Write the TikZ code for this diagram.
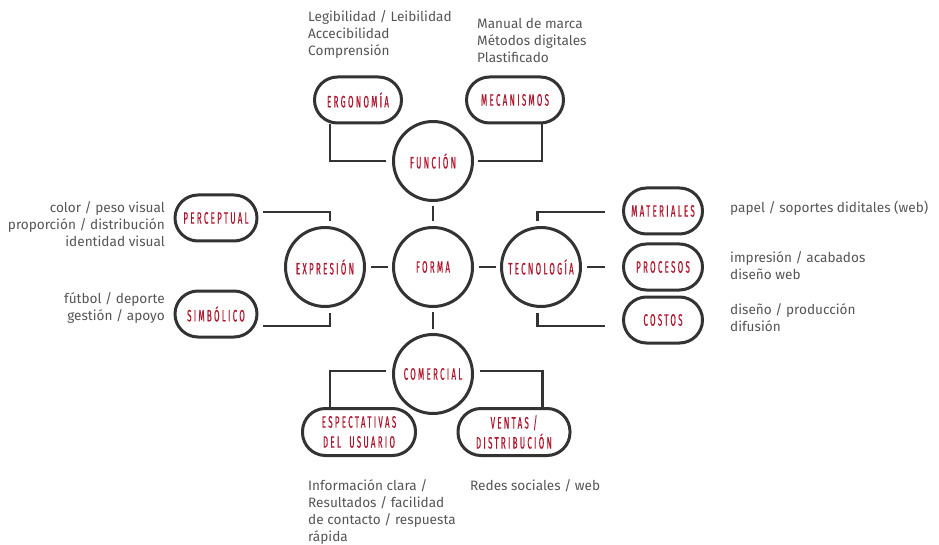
\documentclass[tikz,border=0pt]{standalone}
\usepackage{fontspec}
\setmainfont{Fira Sans}
\newfontfamily\labfont[FakeStretch=0.48,LetterSpace=14,FakeBold=0.6]{Fira Sans}
\usetikzlibrary{calc}
\definecolor{lineC}{HTML}{333333}
\definecolor{redC}{HTML}{B0142C}
\definecolor{grayC}{HTML}{555555}
\begin{document}
\begin{tikzpicture}[x=1pt,y=-1pt,
  circ/.style={circle, draw=lineC, line width=3pt, minimum size=79pt, inner sep=0pt,
    font=\labfont\fontsize{16.5}{20}\selectfont, text=redC},
  pill/.style={rectangle, rounded corners=23pt, draw=lineC, line width=3pt,
    minimum height=46pt, inner sep=0pt, align=center,
    font=\labfont\fontsize{16.5}{20}\selectfont, text=redC},
  conn/.style={draw=lineC, line width=2.6pt},
  note/.style={text=grayC, font=\fontsize{13.6}{17}\selectfont, inner sep=0pt}]
\useasboundingbox (0,0) rectangle (939,545);
% circles
\node[circ] (funcion) at (433,161) {FUNCIÓN};
\node[circ] (forma) at (433,267) {FORMA};
\node[circ] (expr) at (325,267) {EXPRESIÓN};
\node[circ] (tecno) at (541,267) {TECNOLOGÍA};
\node[circ] (comer) at (433,374) {COMERCIAL};
% pills
\node[pill, minimum width=87pt] (ergo) at (358,100) {ERGONOMÍA};
\node[pill, minimum width=97pt] (meca) at (515,100) {MECANISMOS};
\node[pill, minimum width=82pt] (perc) at (216,218) {PERCEPTUAL};
\node[pill, minimum width=82pt] (simb) at (216,314) {SIMBÓLICO};
\node[pill, minimum width=79pt] (mat) at (663,211) {MATERIALES};
\node[pill, minimum width=79pt] (proc) at (663,267) {PROCESOS};
\node[pill, minimum width=79pt] (cost) at (663,320) {COSTOS};
\node[pill, minimum width=113pt, minimum height=47pt] (esp) at (359,432) {ESPECTATIVAS\\DEL\hspace{4pt} USUARIO};
\node[pill, minimum width=112pt, minimum height=47pt] (vent) at (514,432) {VENTAS /\\DISTRIBUCIÓN};
% connectors between circles
\draw[conn] ([yshift=-4.5pt]funcion.south) -- ([yshift=4.5pt]forma.north);
\draw[conn] ([yshift=-4pt]forma.south) -- ([yshift=4.5pt]comer.north);
\draw[conn] ([xshift=4.5pt]expr.east) -- ([xshift=-4.5pt]forma.west);
\draw[conn] ([xshift=4.5pt]forma.east) -- ([xshift=-4.5pt]tecno.west);
% elbow connectors
\draw[conn] ([xshift=-28pt]ergo.south) |- ([xshift=-6pt]funcion.west);
\draw[conn] ([xshift=4pt]funcion.east) -| ([xshift=27pt]meca.south);
\draw[conn] ([xshift=4pt,yshift=6pt]perc.east) -| ([xshift=5pt,yshift=4.5pt]expr.north);
\draw[conn] ([xshift=4pt,yshift=-12pt]simb.east) -| ([xshift=5pt,yshift=-4.5pt]expr.south);
\draw[conn] ([xshift=-3.5pt,yshift=4.5pt]tecno.north) |- ([xshift=-17.5pt,yshift=-1pt]mat.west);
\draw[conn] ([xshift=4.5pt]tecno.east) -- ([xshift=-17.5pt]proc.west);
\draw[conn] ([xshift=-3.5pt,yshift=-4.5pt]tecno.south) |- ([xshift=-17.5pt,yshift=-6pt]cost.west);
\draw[conn] ([xshift=-6pt,yshift=3pt]comer.west) -| ([xshift=-29pt]esp.north);
\draw[conn] ([xshift=6pt,yshift=3pt]comer.east) -| ([xshift=28.5pt]vent.north);
% notes
\node[note, anchor=north west, align=left] (n1) at (308,10) {Legibilidad / Leibilidad\\Accecibilidad\\Comprensión};
\node[note, anchor=north west, align=left] (n2) at (477,18) {Manual de marca\\Métodos digitales\\Plastificado};
\node[note, anchor=north east, align=right] (n3) at (165,201) {color / peso visual\\proporción / distribución\\identidad visual\ };
\node[note, anchor=north east, align=right] (n4) at (165,292) {fútbol / deporte\\gestión / apoyo\ };
\node[note, anchor=north west, align=left] (n5) at (730,201) {papel / soportes diditales (web)};
\node[note, anchor=north west, align=left] (n6) at (730,251) {impresión / acabados\\diseño web};
\node[note, anchor=north west, align=left] (n7) at (730,303) {diseño / producción\\difusión};
\node[note, anchor=north west, align=left] (n8) at (308,479) {Información clara /\\Resultados / facilidad\\de contacto / respuesta\\rápida};
\node[note, anchor=north west, align=left] (n9) at (470,479) {Redes sociales / web};
\end{tikzpicture}
\end{document}
